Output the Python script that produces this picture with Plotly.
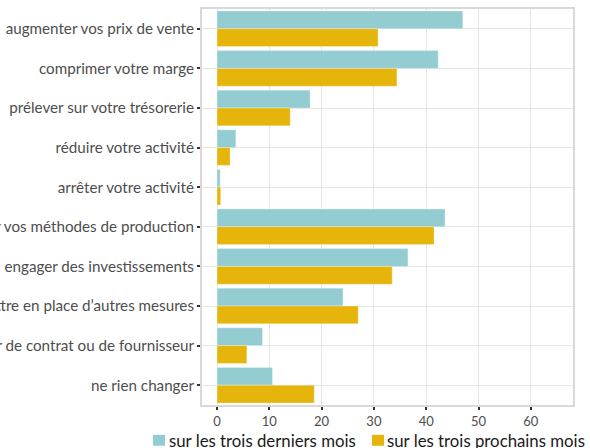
import plotly.graph_objects as go

categories = [
    "augmenter vos prix de vente",
    "comprimer votre marge",
    "prélever sur votre trésorerie",
    "réduire votre activité",
    "arrêter votre activité",
    "modifier vos méthodes de production",
    "engager des investissements",
    "mettre en place d’autres mesures",
    "changer de contrat ou de fournisseur",
    "ne rien changer",
]
derniers = [47.0, 42.3, 17.8, 3.6, 0.6, 43.6, 36.5, 24.1, 8.7, 10.6]
prochains = [30.8, 34.4, 14.0, 2.5, 0.7, 41.5, 33.5, 27.0, 5.7, 18.6]
series_names = ["sur les trois derniers mois", "sur les trois prochains mois"]
series_colors = ["#93CDD1", "#E5B50B"]
x_ticks = [0, 10, 20, 30, 40, 50, 60]

FONT = "Lato"
W, H = 590, 448
ML, MR, MT, MB = 202, 17, 7, 43
PW, PH = W - ML - MR, H - MT - MB


def px_x(p):
    return (p - ML) / PW


def px_y(p):
    return (H - MB - p) / PH


fig = go.Figure()
for vals, name, col in zip([derniers, prochains], series_names, series_colors):
    fig.add_trace(go.Bar(y=categories, x=vals, orientation="h", name=name,
                         marker=dict(color=col, line=dict(color="rgba(255,255,255,0.5)", width=0.6))))

# legend drawn manually (square + text)
sq = [(153, 165), (372, 384)]
tx = [168, 386]
for (a, b), t, name, col in zip(sq, tx, series_names, series_colors):
    fig.add_shape(type="rect", xref="paper", yref="paper",
                  x0=px_x(a), x1=px_x(b), y0=px_y(446), y1=px_y(435),
                  fillcolor=col, line=dict(width=0))
    fig.add_annotation(xref="paper", yref="paper", x=px_x(t), y=px_y(440.5),
                       xanchor="left", yanchor="middle", text=name, showarrow=False,
                       font=dict(family=FONT, size=16.8, color="#1a1a1a"), borderpad=0)

fig.update_layout(
    width=W, height=H,
    margin=dict(l=ML, r=MR, t=MT, b=MB),
    barmode="group", bargap=0.1, bargroupgap=0,
    plot_bgcolor="white", paper_bgcolor="white",
    font=dict(family=FONT, color="#4d4d4d", size=13),
    showlegend=False,
)
fig.update_xaxes(range=[-2.87, 68.07], tickvals=x_ticks, showgrid=True, gridcolor="#e5e5e5",
                 gridwidth=1, zeroline=False, ticks="outside", ticklen=3, tickcolor="#333333",
                 tickwidth=1.5, tickfont=dict(size=13, color="#4d4d4d"),
                 showline=True, mirror=True, linecolor="#d9d9d9", linewidth=2)
fig.update_yaxes(autorange="reversed", categoryorder="array", categoryarray=categories,
                 showgrid=True, gridcolor="#e5e5e5", gridwidth=1, ticks="outside", ticklen=3,
                 tickcolor="#333333", tickwidth=1.5, tickfont=dict(size=15.2, color="#4d4d4d"),
                 showline=True, mirror=True, linecolor="#d9d9d9", linewidth=2, automargin=False)

fig.write_html("out.html", config={"displayModeBar": False},
               post_script="document.body.style.margin='0';")
